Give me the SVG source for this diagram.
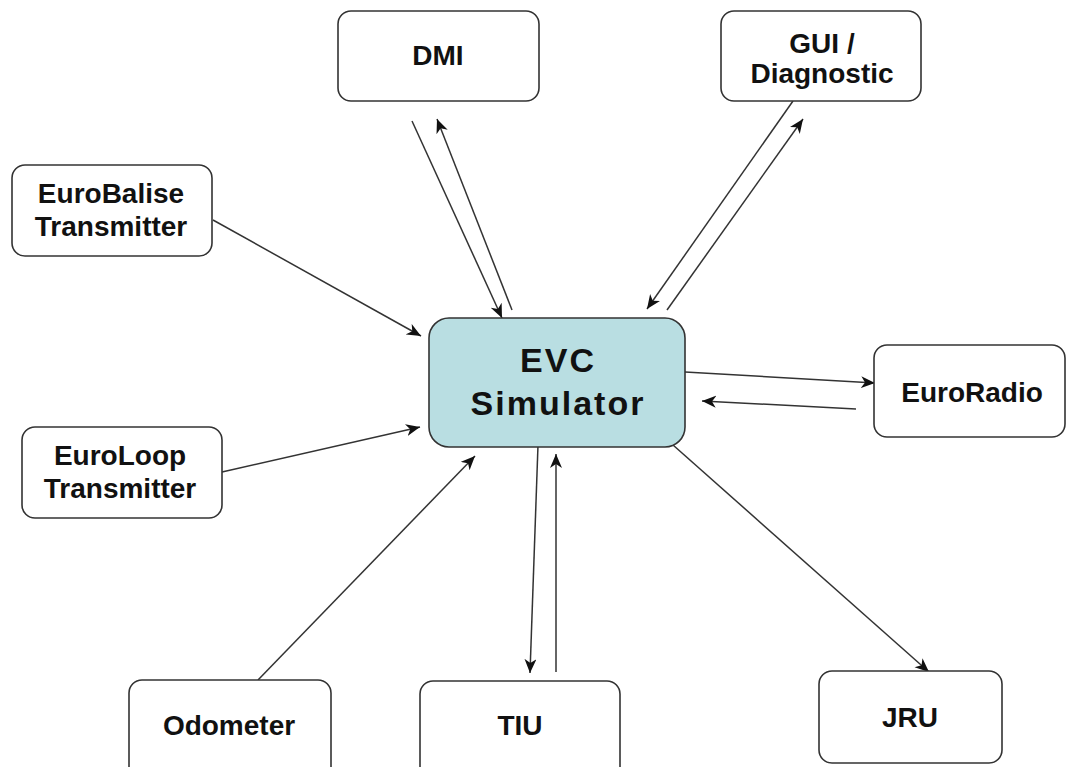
<svg xmlns="http://www.w3.org/2000/svg" width="1066" height="767" viewBox="0 0 1066 767">
<style>
.box{fill:#fff;stroke:#333;stroke-width:1.6}
.evc{fill:#b9dee2;stroke:#333;stroke-width:1.6}
.t{font-family:"Liberation Sans",Arial,sans-serif;font-size:28px;font-weight:bold;fill:#111;text-anchor:middle}
.big{font-family:"Liberation Sans",Arial,sans-serif;font-size:34px;font-weight:bold;fill:#111;text-anchor:middle;letter-spacing:2px}
.c line{stroke:#333;stroke-width:1.5;marker-end:url(#ah)}
</style>
<defs>
<marker id="ah" markerUnits="userSpaceOnUse" markerWidth="16" markerHeight="13" refX="14" refY="6" orient="auto">
<path d="M0,0 L14,6 L0,12 L4,6 z" fill="#111"/>
</marker>
</defs>
<rect width="1066" height="767" fill="#fff"/>
<g class="c" id="connectors">
<line x1="412" y1="121" x2="502" y2="318"/>
<line x1="512" y1="310" x2="437" y2="119"/>
<line x1="793" y1="101" x2="647" y2="309"/>
<line x1="667" y1="310" x2="803" y2="119"/>
<line x1="213" y1="220" x2="421" y2="336"/>
<line x1="222" y1="472" x2="420" y2="427"/>
<line x1="258" y1="680" x2="475" y2="456"/>
<line x1="538" y1="445" x2="530" y2="673"/>
<line x1="556" y1="672" x2="556" y2="454"/>
<line x1="685" y1="372" x2="875" y2="383"/>
<line x1="856" y1="409" x2="702" y2="401"/>
<line x1="673" y1="445" x2="929" y2="672"/>
</g>
<g id="evc"><rect class="evc" x="429" y="318" width="256" height="129" rx="20"/><text class="big" x="558" y="372">EVC</text><text class="big" x="558" y="415">Simulator</text></g>
<g id="dmi"><rect class="box" x="338" y="11" width="201" height="90" rx="13"/><text class="t" x="438" y="65">DMI</text></g>
<g id="gui"><rect class="box" x="721" y="11" width="200" height="90" rx="13"/><text class="t" x="822" y="53">GUI /</text><text class="t" x="822" y="83">Diagnostic</text></g>
<g id="eurobalise"><rect class="box" x="12" y="165" width="200" height="91" rx="13"/><text class="t" x="111" y="203">EuroBalise</text><text class="t" x="111" y="236">Transmitter</text></g>
<g id="euroloop"><rect class="box" x="22" y="427" width="200" height="91" rx="13"/><text class="t" x="120" y="465">EuroLoop</text><text class="t" x="120" y="498">Transmitter</text></g>
<g id="euroradio"><rect class="box" x="874" y="345" width="191" height="92" rx="13"/><text class="t" x="972" y="402">EuroRadio</text></g>
<g id="odometer"><rect class="box" x="129" y="680" width="202" height="100" rx="13"/><text class="t" x="229" y="735">Odometer</text></g>
<g id="tiu"><rect class="box" x="420" y="681" width="200" height="100" rx="13"/><text class="t" x="520" y="735">TIU</text></g>
<g id="jru"><rect class="box" x="819" y="671" width="183" height="92" rx="13"/><text class="t" x="910" y="727">JRU</text></g>
</svg>
